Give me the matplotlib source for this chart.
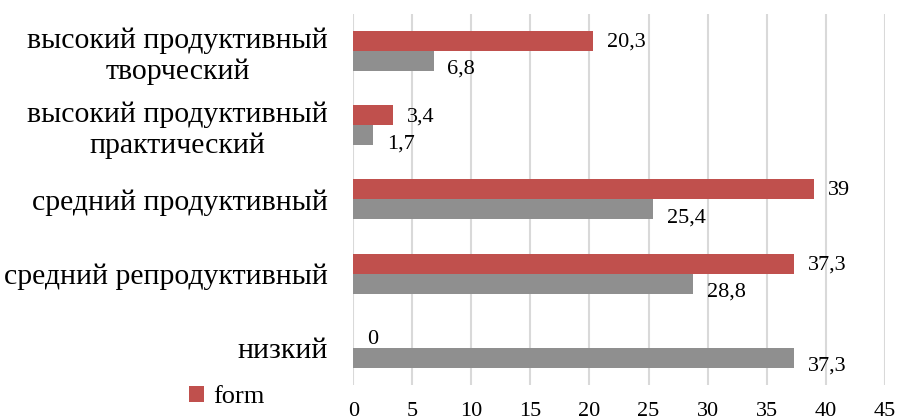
import matplotlib.pyplot as plt
import numpy as np

# данные
categories = ['низкий', 'средний репродуктивный', 'средний продуктивный',
              'высокий продуктивный\nпрактический', 'высокий продуктивный\nтворческий']
form = [0, 37.3, 39, 3.4, 20.3]
other = [37.3, 28.8, 25.4, 1.7, 6.8]

red = '#C0504D'
grey = '#8F8F8F'

plt.rcParams['font.family'] = ['Liberation Serif', 'DejaVu Serif']

fig = plt.figure(figsize=(9.01, 4.19), dpi=100)
ax = fig.add_axes([0.392, 0.081, 0.590, 0.886])

y = np.arange(len(categories))
h = 0.27
bars_form = ax.barh(y + h / 2, form, h, color=red, label='form', zorder=3)
bars_other = ax.barh(y - h / 2, other, h, color=grey, zorder=3)

def fmt(v):
    return ('%g' % v).replace('.', ',')

for b, v in zip(bars_form, form):
    ax.annotate(fmt(v), (v, b.get_y() + b.get_height() / 2), xytext=(10, -1),
                textcoords='offset points', va='center', ha='left', fontsize=16)
for b, v in zip(bars_other, other):
    ax.annotate(fmt(v), (v, b.get_y() + b.get_height() / 2), xytext=(10, -6),
                textcoords='offset points', va='center', ha='left', fontsize=16)

ax.set_xlim(0, 45)
ax.set_ylim(-0.5, 4.5)
ax.set_xticks(range(0, 46, 5))
ax.set_yticks(y)
ax.set_yticklabels(categories, fontsize=21.5, ha='right', multialignment='center',
                   linespacing=1.2)
ax.tick_params(axis='y', length=0, pad=18)
ax.tick_params(axis='x', length=0, pad=12, labelsize=16)
ax.grid(axis='x', color='#D9D9D9', linewidth=1.5, zorder=0)
for s in ax.spines.values():
    s.set_visible(False)

handles, labels = ax.get_legend_handles_labels()
fig.legend(handles, labels, loc='center', bbox_to_anchor=(0.252, 0.052), frameon=False,
           fontsize=19, handlelength=0.55, handleheight=0.55, handletextpad=0.35)

fig.savefig('out.png', dpi=100)
